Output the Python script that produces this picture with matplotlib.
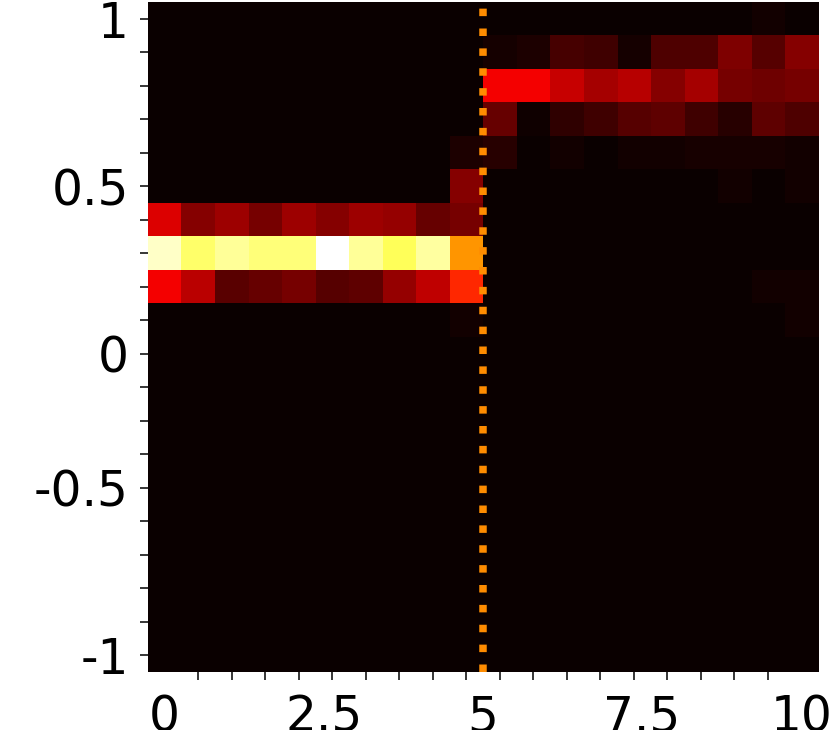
"""
히트맵 + 경계선(x=5) 재현 스크립트.
출력: out.png
"""
import numpy as np
import matplotlib
matplotlib.use("Agg")
import matplotlib.pyplot as plt

# 격자 중심 (20 x 20)
x_centers = np.linspace(0, 10, 20)
y_centers = np.linspace(1, -1, 20)  # 위쪽 행이 y=1

# 행별 세기 (위에서부터, 0~1 정규화). 나머지 행은 0
row_0 = [0] * 18 + [0.013, 0]
row_1 = [0] * 10 + [0.019, 0.031, 0.091, 0.079, 0.019, 0.103, 0.103, 0.175, 0.115, 0.187]
row_2 = [0] * 10 + [0.349, 0.349, 0.282, 0.234, 0.258, 0.187, 0.234, 0.163, 0.151, 0.163]
row_3 = [0] * 10 + [0.139, 0.008, 0.055, 0.079, 0.115, 0.127, 0.079, 0.043, 0.127, 0.103]
row_4 = [0] * 9 + [0.031, 0.043, 0.0, 0.013, 0.0, 0.013, 0.013, 0.022, 0.022, 0.022, 0.013]
row_5 = [0] * 9 + [0.187] + [0] * 7 + [0.013, 0, 0.013]
row_6 = [0.313, 0.187, 0.222, 0.163, 0.222, 0.187, 0.222, 0.210, 0.139, 0.163] + [0] * 10
row_7 = [0.945, 0.850, 0.897, 0.866, 0.866, 1.000, 0.897, 0.834, 0.905, 0.586] + [0] * 10
row_8 = [0.349, 0.263, 0.118, 0.139, 0.163, 0.115, 0.127, 0.210, 0.270, 0.425] + [0] * 8 + [0.013, 0.013]
row_9 = [0] * 9 + [0.013] + [0] * 9 + [0.013]

# 눈금 라벨
x_tick_values = [0, 2.5, 5, 7.5, 10]
x_tick_labels = ["0", "2.5", "5", "7.5", "10"]
y_tick_index = [0, 5, 10, 14, 19]
y_tick_labels = ["1", "0.5", "0", "-0.5", "-1"]

boundary_x = 5


def build_grid():
    rows = [row_0, row_1, row_2, row_3, row_4, row_5, row_6, row_7, row_8, row_9]
    grid = np.zeros((len(y_centers), len(x_centers)))
    for i, r in enumerate(rows):
        grid[i] = r
    return grid


def main():
    grid = build_grid()
    dx = x_centers[1] - x_centers[0]
    dy = abs(y_centers[1] - y_centers[0])

    fig = plt.figure(figsize=(8.3, 7.3), dpi=100)
    ax = fig.add_axes([0.178, 0.0795, 0.8075, 0.9175])

    ax.imshow(
        grid,
        cmap="hot",
        vmin=0,
        vmax=1,
        origin="upper",
        interpolation="nearest",
        aspect="auto",
        extent=[x_centers[0] - dx / 2, x_centers[-1] + dx / 2,
                y_centers[-1] - dy / 2, y_centers[0] + dy / 2],
    )
    ax.axvline(boundary_x, color="darkorange", linestyle=":", linewidth=5.4)

    # x: 라벨은 실제 값 위치, 눈금선은 셀 중심마다
    ax.set_xticks(x_tick_values)
    ax.set_xticklabels(x_tick_labels)
    ax.set_xticks(x_centers, minor=True)
    ax.tick_params(axis="x", which="major", length=0, pad=15.5)

    # y: 라벨은 셀 인덱스 기준
    ax.set_yticks(y_centers[y_tick_index])
    ax.set_yticklabels(y_tick_labels)
    ax.set_yticks(y_centers, minor=True)
    ax.tick_params(axis="y", which="major", length=5.5, width=1.1, pad=8)

    ax.tick_params(which="minor", length=5.5, width=1.1)
    ax.tick_params(labelsize=35)

    for s in ax.spines.values():
        s.set_visible(False)

    fig.savefig("out.png", dpi=100)
    plt.close(fig)


if __name__ == "__main__":
    main()
